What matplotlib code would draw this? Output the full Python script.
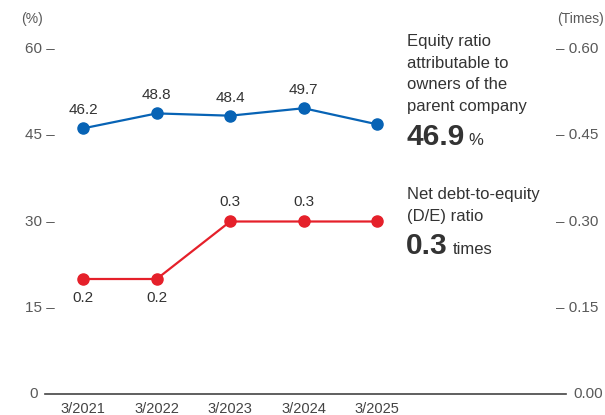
import matplotlib.pyplot as plt

plt.rcParams['font.family'] = ['Liberation Sans', 'DejaVu Sans']

years = ["3/2021", "3/2022", "3/2023", "3/2024", "3/2025"]
equity_ratio = [46.2, 48.8, 48.4, 49.7, 46.9]
de_ratio = [0.2, 0.2, 0.3, 0.3, 0.3]

left_ticks = [0, 15, 30, 45, 60]
right_ticks = ["0.00", "0.15", "0.30", "0.45", "0.60"]

equity_caption = ["Equity ratio", "attributable to", "owners of the", "parent company"]
de_caption = ["Net debt-to-equity", "(D/E) ratio"]

blue = "#0763b5"
red = "#e5202a"
grey = "#333333"
tick_grey = "#595959"

W, H = 605, 415
fig = plt.figure(figsize=(6.05, 4.15), dpi=100)
ax = fig.add_axes([45 / W, 21 / H, (566 - 45) / W, (394 - 49) / H])
ax.set_xlim(-0.52, 6.57)
ax.set_ylim(0, 60)
ax.axis("off")


def px_text(x, y, s, **kw):
    # place text by pixel position measured from the top-left corner
    return fig.text(x / W, 1 - y / H, s, **kw)


# baseline
ax.axhline(0, color="#444444", lw=1.2, clip_on=False)

x = list(range(len(years)))

# equity ratio on the % scale; latest value is shown in the caption instead
ax.plot(x, equity_ratio, color=blue, lw=1.6, marker="o", ms=8, clip_on=False)
for xi, v in zip(x[:-1], equity_ratio[:-1]):
    ax.annotate(f"{v:.1f}", (xi, v), xytext=(0, 8), textcoords="offset points",
                ha="center", va="bottom", fontsize=11, color=grey)

# D/E ratio drawn on the times scale (0.60 times = 60 on the left)
de_scaled = [v * 100 for v in de_ratio]
ax.plot(x, de_scaled, color=red, lw=1.6, marker="o", ms=8, clip_on=False)
for i, (xi, v) in enumerate(zip(x[:-1], de_ratio[:-1])):
    if i < 2:
        ax.annotate(f"{v:.1f}", (xi, v * 100), xytext=(0, -9), textcoords="offset points",
                    ha="center", va="top", fontsize=11, color=grey)
    else:
        ax.annotate(f"{v:.1f}", (xi, v * 100), xytext=(0, 9), textcoords="offset points",
                    ha="center", va="bottom", fontsize=11, color=grey)

# axis labels drawn as text
tr_left = ax.get_yaxis_transform()
for t in left_ticks:
    lbl = "0" if t == 0 else f"{t} \u2013"
    xoff = -7 if t == 0 else 10
    ax.annotate(lbl, (0, t), xytext=(xoff, 0), textcoords="offset pixels",
                xycoords=tr_left, ha="right", va="center", fontsize=11, color=tick_grey)
for t, lbl in zip(left_ticks, right_ticks):
    s = lbl if t == 0 else "\u2013 " + lbl
    xoff = 7 if t == 0 else -10
    ax.annotate(s, (1, t), xytext=(xoff, 0), textcoords="offset pixels",
                xycoords=tr_left, ha="left", va="center", fontsize=11, color=tick_grey)
px_text(21, 19, "(%)", ha="left", va="center", fontsize=10, color=tick_grey)
px_text(604, 19, "(Times)", ha="right", va="center", fontsize=10, color=tick_grey)

for xi, lbl in zip(x, years):
    ax.annotate(lbl, (xi, 0), xytext=(0, -8), textcoords="offset pixels",
                ha="center", va="top", fontsize=10.5, color="#444444", annotation_clip=False)

# side captions, one line at a time
for k, line in enumerate(equity_caption):
    px_text(407, 46 + 21.7 * k, line, ha="left", va="baseline", fontsize=12, color=grey)
px_text(406, 145, f"{equity_ratio[-1]:.1f}", ha="left", va="baseline",
        fontsize=21.5, fontweight="bold", color=grey)
px_text(468, 145, "%", ha="left", va="baseline", fontsize=12, color=grey)

for k, line in enumerate(de_caption):
    px_text(407, 199 + 21.7 * k, line, ha="left", va="baseline", fontsize=12, color=grey)
px_text(406, 254, f"{de_ratio[-1]:.1f}", ha="left", va="baseline",
        fontsize=21.5, fontweight="bold", color=grey)
px_text(453, 254, "times", ha="left", va="baseline", fontsize=12, color=grey)

fig.savefig("out.png", dpi=100)
